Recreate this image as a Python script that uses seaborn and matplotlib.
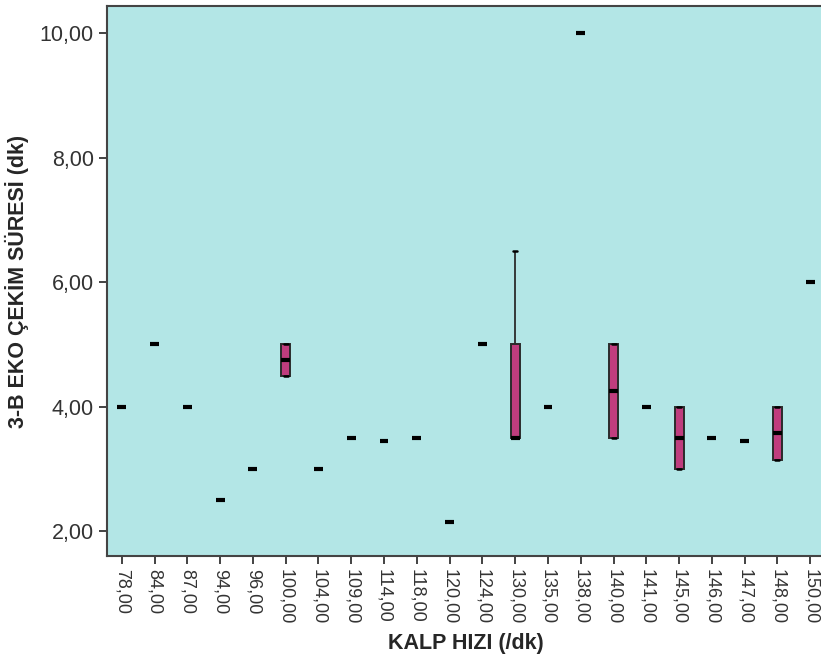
import numpy as np
import pandas as pd
import matplotlib
matplotlib.use("Agg")
import matplotlib.pyplot as plt
import seaborn as sns

# heart rate groups (x categories)
hiz = ["78,00", "84,00", "87,00", "94,00", "96,00", "100,00", "104,00", "109,00",
       "114,00", "118,00", "120,00", "124,00", "130,00", "135,00", "138,00",
       "140,00", "141,00", "145,00", "146,00", "147,00", "148,00", "150,00"]

sure = [
    [4.0],
    [5.0],
    [4.0],
    [2.5],
    [3.0],
    [4.5, 4.5, 5.0, 5.0],
    [3.0],
    [3.5],
    [3.45],
    [3.5],
    [2.15],
    [5.0],
    [3.5, 3.5, 3.5, 5.0, 6.5],
    [4.0],
    [10.0],
    [3.5, 3.5, 5.0, 5.0],
    [4.0],
    [3.0, 3.0, 4.0, 4.0],
    [3.5],
    [3.45],
    [3.15, 3.15, 4.0, 4.0],
    [6.0],
]

y_ticks = [2, 4, 6, 8, 10]

rows = []
for h, vals in zip(hiz, sure):
    for v in vals:
        rows.append({"hiz": h, "sure": v})
df = pd.DataFrame(rows)

sns.set_style("ticks")
plt.rcParams["font.family"] = ["Liberation Sans", "DejaVu Sans"]

fig = plt.figure(figsize=(8.21, 6.62), dpi=100)
ax = fig.add_axes([107 / 821, 1 - 556 / 662, 718 / 821, 550 / 662])
ax.set_facecolor("#B3E6E6")

sns.boxplot(data=df, x="hiz", y="sure", order=hiz, ax=ax, width=0.27,
            color="#C03D7E", saturation=1, whis=1.5,
            boxprops=dict(edgecolor="#2b2b2b", linewidth=1.4),
            medianprops=dict(color="black", linewidth=3),
            whiskerprops=dict(color="#2b2b2b", linewidth=1.3),
            capprops=dict(color="black", linewidth=1.8),
            capwidths=0.12, showfliers=False)

ax.set_xlim(-0.45, 21.45)
ax.set_ylim(1.6, 10.44)
ax.set_yticks(y_ticks)
ax.set_yticklabels([f"{t:.2f}".replace(".", ",") for t in y_ticks], fontsize=15.5, color="#333333")
ax.set_xticks(range(len(hiz)))
ax.set_xticklabels(hiz, rotation=-90, fontsize=13, color="#333333")
ax.tick_params(axis="both", direction="out", length=6, width=1.2, color="#222222")

for s in ax.spines.values():
    s.set_visible(True)
    s.set_color("#444444")
    s.set_linewidth(1.5)

ax.set_xlabel("KALP HIZI (/dk)", fontsize=15.5, fontweight="bold", labelpad=6)
ax.set_ylabel("3-B EKO ÇEKİM SÜRESİ (dk)", fontsize=15.5, fontweight="bold", labelpad=8)

fig.savefig("out.png", dpi=100)
